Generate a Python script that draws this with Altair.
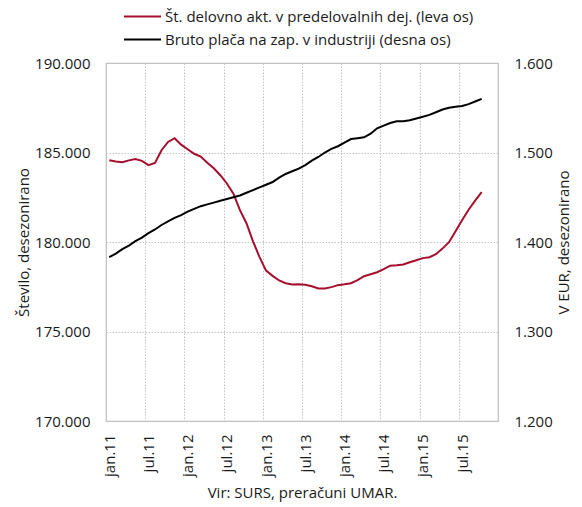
import json
import altair as alt
import pandas as pd

# Months jan.11 .. dec.15 (60 categories on the axis); data through oct.15
years = ["11", "12", "13", "14", "15"]
month_names = ["jan", "feb", "mar", "apr", "maj", "jun", "jul", "avg", "sep", "okt", "nov", "dec"]
categories = [f"{m}.{y}" for y in years for m in month_names]
tick_labels = ["jan.11", "jul.11", "jan.12", "jul.12", "jan.13", "jul.13",
               "jan.14", "jul.14", "jan.15", "jul.15"]

series_names = ["Št. delovno akt. v predelovalnih dej. (leva os)",
                "Bruto plača na zap. v industriji (desna os)"]

employed = [184570, 184500, 184460, 184560, 184640, 184530, 184290, 184420, 185130, 185590,
            185800, 185440, 185180, 184930, 184770, 184430, 184120, 183730, 183270, 182700,
            181780, 181050, 180040, 179150, 178400, 178110, 177850, 177700, 177630, 177640,
            177610, 177530, 177400, 177400, 177480, 177590, 177640, 177700, 177870, 178090,
            178200, 178310, 178480, 178680, 178700, 178740, 178870, 178980, 179100, 179150,
            179320, 179630, 179990, 180600, 181220, 181800, 182310, 182780]

wage = [1383, 1387, 1392, 1396, 1401, 1405, 1410, 1414, 1419, 1423,
        1427, 1430, 1434, 1437, 1440, 1442, 1444, 1446, 1448, 1450,
        1452, 1455, 1458, 1461, 1464, 1467, 1472, 1476, 1479, 1482,
        1486, 1491, 1495, 1500, 1504, 1507, 1511, 1515, 1516, 1517,
        1521, 1527, 1530, 1533, 1535, 1535, 1536, 1538, 1540, 1542,
        1545, 1548, 1550, 1551, 1552, 1554, 1557, 1560]

FONT = "Open Sans"
TXT = "#1a1a1a"
RED = "#a50f2d"

n_cat = len(categories)
df_emp = pd.DataFrame({
    "pos": [i + 0.5 for i in range(len(employed))],
    "month": categories[:len(employed)],
    "value": employed,
    "series": series_names[0],
})
df_wage = pd.DataFrame({
    "pos": [i + 0.5 for i in range(len(wage))],
    "month": categories[:len(wage)],
    "value": wage,
    "series": series_names[1],
})

num_fmt = "replace(format(datum.value, ',.0f'), ',', '.')"
label_expr = json.dumps(tick_labels) + "[floor(datum.value / 6)]"

x_enc = alt.X(
    "pos:Q",
    scale=alt.Scale(domain=[0, n_cat], nice=False, zero=False),
    axis=alt.Axis(
        values=[i * 6 for i in range(len(tick_labels))],
        labelExpr=label_expr,
        labelAngle=270, labelAlign="right", labelBaseline="middle",
        labelOffset=3.27, labelPadding=13,
        ticks=False, tickSize=0, domain=False,
        grid=True, gridColor="#c4c4c4", gridDash=[1.5, 1.5], gridWidth=1,
        labelFont=FONT, labelFontSize=15, labelColor=TXT,
        title="Vir: SURS, preračuni UMAR.",
        titleFont=FONT, titleFontSize=15, titleFontWeight="normal", titleColor=TXT,
        titleY=71, titleBaseline="middle",
    ),
)

color_enc = alt.Color(
    "series:N",
    scale=alt.Scale(domain=series_names, range=[RED, "#000000"]),
    legend=alt.Legend(
        title=None, orient="none", legendX=17, legendY=-58,
        symbolType="stroke", symbolSize=1369, symbolStrokeWidth=2,
        labelFont=FONT, labelFontSize=15, labelColor=TXT,
        labelOffset=3, rowPadding=0, clipHeight=23, labelLimit=500,
    ),
)

red = alt.Chart(df_emp).mark_line(strokeWidth=2).encode(
    x=x_enc,
    y=alt.Y(
        "value:Q",
        scale=alt.Scale(domain=[170000, 190000], nice=False, zero=False),
        axis=alt.Axis(
            values=[170000, 175000, 180000, 185000, 190000],
            labelExpr=num_fmt, orient="left",
            ticks=False, tickSize=0, domain=False, labelPadding=16,
            grid=True, gridColor="#c4c4c4", gridDash=[1.5, 1.5], gridWidth=1,
            labelFont=FONT, labelFontSize=15, labelColor=TXT,
            title="Število, desezonirano",
            titleFont=FONT, titleFontSize=15, titleFontWeight="normal", titleColor=TXT,
            titleAngle=270, titleX=-83, titleBaseline="middle",
        ),
    ),
    color=color_enc,
    order="pos:Q",
)

black = alt.Chart(df_wage).mark_line(strokeWidth=2).encode(
    x=x_enc,
    y=alt.Y(
        "value:Q",
        scale=alt.Scale(domain=[1200, 1600], nice=False, zero=False),
        axis=alt.Axis(
            values=[1200, 1300, 1400, 1500, 1600],
            labelExpr=num_fmt, orient="right",
            ticks=False, tickSize=0, domain=False, labelPadding=16,
            grid=False,
            labelFont=FONT, labelFontSize=15, labelColor=TXT,
            title="V EUR, desezonirano",
            titleFont=FONT, titleFontSize=15, titleFontWeight="normal", titleColor=TXT,
            titleAngle=270, titleX=65, titleBaseline="middle",
        ),
    ),
    color=color_enc,
    order="pos:Q",
)

chart = alt.layer(red, black).resolve_scale(y="independent").properties(
    width=392, height=358,
    autosize=alt.AutoSizeParams(type="none"),
    padding={"left": 98, "top": 55, "right": 76, "bottom": 84},
    background="white",
).configure_view(stroke="#bfbfbf", strokeWidth=1.2)

chart.save("out.html", embed_options={"renderer": "svg", "actions": False})
